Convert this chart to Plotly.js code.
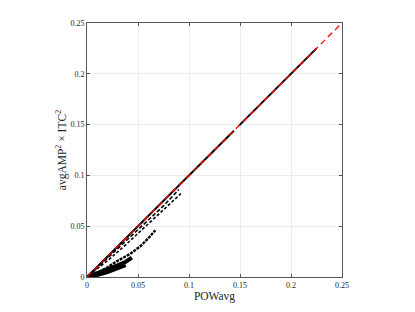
<!DOCTYPE html>
<html>
<head>
<meta charset="utf-8">
<script src="https://cdn.plot.ly/plotly-3.0.1.min.js"></script>
<style>
  html, body { margin: 0; padding: 0; background: #fff; }
  #chart { width: 415px; height: 312px; }
</style>
</head>
<body>
<div id="chart"></div>
<script>
// reference line y = x
var refX = [0, 0.25]
var refY = [0, 0.25]

// points sitting on the diagonal (gap near 0.145)
var diagX = [0, 0.144, null, 0.149, 0.225]
var diagY = [0, 0.144, null, 0.149, 0.225]

// upper dotted branch, just under the diagonal
var branchAX = [0.004, 0.02, 0.04, 0.06, 0.075, 0.09]
var branchAY = [0.0035, 0.0185, 0.037, 0.0555, 0.070, 0.086]

// second dotted branch
var branchBX = [0.006, 0.02, 0.035, 0.05, 0.065, 0.08, 0.092]
var branchBY = [0.005, 0.016, 0.029, 0.043, 0.057, 0.071, 0.082]

// curved branch ending near (0.067, 0.046)
var branchCX = [0.001, 0.01, 0.02, 0.03, 0.042, 0.052, 0.06, 0.067]
var branchCY = [0.0005, 0.004, 0.0095, 0.016, 0.0225, 0.030, 0.038, 0.046]

// thick cluster close to the origin
var branchDX = [0.001, 0.01, 0.02, 0.03, 0.038, 0.044]
var branchDY = [0.0004, 0.0035, 0.0075, 0.0115, 0.015, 0.019]
var branchEX = [0.001, 0.01, 0.02, 0.03, 0.038]
var branchEY = [0.0002, 0.0018, 0.0045, 0.008, 0.0115]

var xTicks = [0, 0.05, 0.1, 0.15, 0.2, 0.25]
var yTicks = [0, 0.05, 0.1, 0.15, 0.2, 0.25]

var black = '#000'
var data = [
	{x: branchEX, y: branchEY, mode: 'lines', line: {color: black, width: 3.5}},
	{x: branchDX, y: branchDY, mode: 'lines', line: {color: black, width: 4}},
	{x: branchCX, y: branchCY, mode: 'lines', line: {color: black, width: 2.4, dash: '3px,1px'}},
	{x: branchBX, y: branchBY, mode: 'lines', line: {color: black, width: 1.6, dash: '3px,2px'}},
	{x: branchAX, y: branchAY, mode: 'lines', line: {color: black, width: 1.6, dash: '4px,2px'}},
	{x: diagX, y: diagY, mode: 'lines', connectgaps: false, line: {color: black, width: 2}},
	{x: refX, y: refY, mode: 'lines', line: {color: '#ff0000', width: 1.3, dash: '6px,4px'}}
]

var axisBase = {
	range: [0, 0.25],
	tickmode: 'array',
	ticks: 'inside',
	ticklen: 3,
	tickcolor: '#555',
	showline: true,
	linecolor: '#555',
	linewidth: 1,
	mirror: 'ticks',
	showgrid: true,
	gridcolor: '#ececec',
	gridwidth: 1,
	zeroline: false,
	tickfont: {family: 'Liberation Serif, serif', size: 8, color: '#262626'}
}

var layout = {
	width: 415,
	height: 312,
	showlegend: false,
	paper_bgcolor: '#fff',
	plot_bgcolor: '#fff',
	margin: {l: 87, r: 73, t: 23, b: 35},
	xaxis: Object.assign({}, axisBase, {
		tickvals: xTicks,
		ticktext: xTicks.map(String),
		title: {text: 'POWavg', standoff: 0, font: {family: 'Liberation Serif, serif', size: 11.5, color: '#262626'}}
	}),
	yaxis: Object.assign({}, axisBase, {
		tickvals: yTicks,
		ticktext: yTicks.map(String),
		title: {text: 'avgAMP<sup>2</sup> × ITC<sup>2</sup>', standoff: 1, font: {family: 'Liberation Serif, serif', size: 11.5, color: '#262626'}}
	})
}

Plotly.newPlot('chart', data, layout, {staticPlot: true, displayModeBar: false})
</script>
</body>
</html>
